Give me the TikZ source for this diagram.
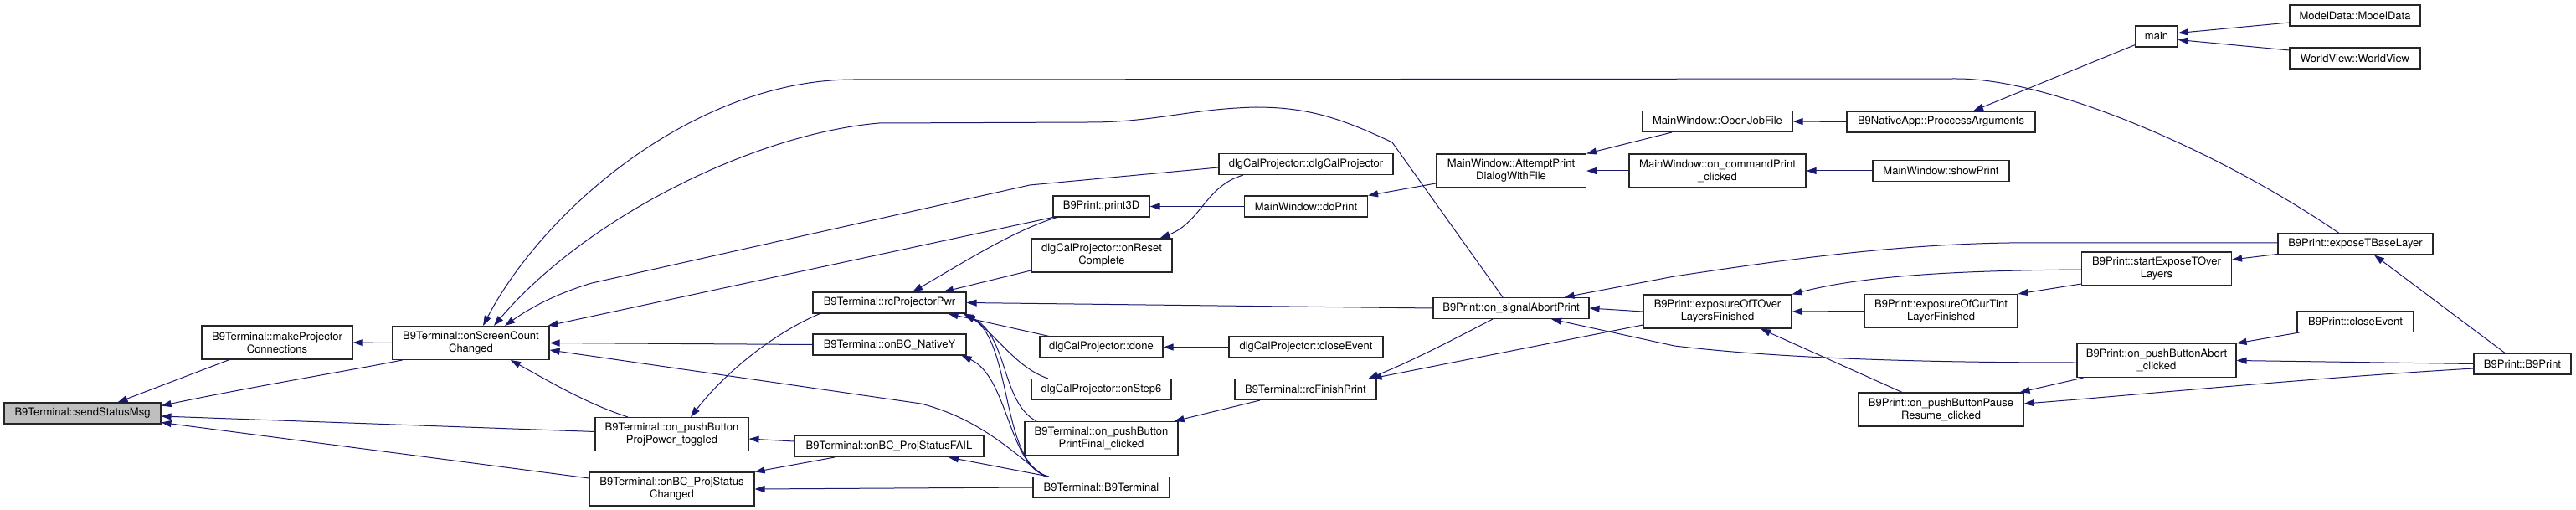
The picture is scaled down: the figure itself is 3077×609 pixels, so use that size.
\documentclass[tikz,border=0pt]{standalone}
\usepackage{fontspec}
\setmainfont{TeX Gyre Heros}
\usetikzlibrary{arrows.meta}

\definecolor{edgeblue}{HTML}{191970}
\definecolor{gray75}{HTML}{BFBFBF}

\tikzset{
  fn/.style={draw=black!85, fill=white, line width=1.1pt, minimum height=25,
    inner sep=1pt, align=center, font=\fontsize{13}{15}\selectfont},
  fnn/.style={fn, minimum height=40},
  root/.style={fn, fill=gray75},
  call/.style={draw=edgeblue, line width=1pt, -{Triangle[length=12pt,width=8pt]}},
}

\begin{document}
\begin{tikzpicture}[x=1pt, y=-1pt]
  \useasboundingbox (0,0) rectangle (3077,609);

  % functions, one column per rank
  \node[root, minimum width=187] (send) at (98.5,493.5) {B9Terminal::sendStatusMsg};
  \node[fnn, minimum width=180] (mkproj) at (331,409) {B9Terminal::makeProjector\\Connections};
  \node[fnn, minimum width=187] (onscreen) at (562.5,409.5) {B9Terminal::onScreenCount\\Changed};
  \node[fnn, minimum width=183] (projpower) at (802.5,518.5) {B9Terminal::on\_pushButton\\ProjPower\_toggled};
  \node[fnn, minimum width=197] (pschanged) at (802.5,584) {B9Terminal::onBC\_ProjStatus\\Changed};
  \node[fn, minimum width=183] (rcpwr) at (1062.5,361.5) {B9Terminal::rcProjectorPwr};
  \node[fn, minimum width=183] (nativey) at (1062.5,411.5) {B9Terminal::onBC\_NativeY};
  \node[fn, minimum width=226] (psfail) at (1062,533) {B9Terminal::onBC\_ProjStatusFAIL};
  \node[fn, minimum width=115] (print3d) at (1315.5,246.5) {B9Print::print3D};
  \node[fnn, minimum width=168] (reset) at (1316,305) {dlgCalProjector::onReset\\Complete};
  \node[fn, minimum width=147] (done) at (1315.5,414.5) {dlgCalProjector::done};
  \node[fn, minimum width=167] (step6) at (1315.5,465) {dlgCalProjector::onStep6};
  \node[fnn, minimum width=183] (printfinal) at (1315.5,523.5) {B9Terminal::on\_pushButton\\PrintFinal\_clicked};
  \node[fn, minimum width=163] (b9term) at (1315.5,582) {B9Terminal::B9Terminal};
  \node[fn, minimum width=208] (dlgcal) at (1560,196) {dlgCalProjector::dlgCalProjector};
  \node[fn, minimum width=147] (doprint) at (1560,246.5) {MainWindow::doPrint};
  \node[fn, minimum width=184] (dlgclose) at (1560,414.5) {dlgCalProjector::closeEvent};
  \node[fn, minimum width=169] (rcfinish) at (1559.5,465) {B9Terminal::rcFinishPrint};
  \node[fnn, minimum width=179] (attempt) at (1805,204) {MainWindow::AttemptPrint\\DialogWithFile};
  \node[fn, minimum width=186] (abortprint) at (1805,368) {B9Print::on\_signalAbortPrint};
  \node[fn, minimum width=179] (openjob) at (2051.5,145) {MainWindow::OpenJobFile};
  \node[fnn, minimum width=211] (cmdprint) at (2051.5,204) {MainWindow::on\_commandPrint\\\_clicked};
  \node[fnn, minimum width=177] (tover) at (2051.5,372) {B9Print::exposureOfTOver\\LayersFinished};
  \node[fn, minimum width=225] (procargs) at (2318.5,145.5) {B9NativeApp::ProccessArguments};
  \node[fn, minimum width=163] (showprint) at (2318.5,204) {MainWindow::showPrint};
  \node[fnn, minimum width=183] (curtint) at (2318.5,371.5) {B9Print::exposureOfCurTint\\LayerFinished};
  \node[fnn, minimum width=197] (pause) at (2318.5,489) {B9Print::on\_pushButtonPause\\Resume\_clicked};
  \node[fn, minimum width=50] (main) at (2576,43.5) {main};
  \node[fnn, minimum width=179] (startexp) at (2576,321) {B9Print::startExposeTOver\\Layers};
  \node[fnn, minimum width=190] (abortbtn) at (2576,430.5) {B9Print::on\_pushButtonAbort\\\_clicked};
  \node[fn, minimum width=156] (modeldata) at (2813,18.5) {ModelData::ModelData};
  \node[fn, minimum width=156] (worldview) at (2813,69.5) {WorldView::WorldView};
  \node[fn, minimum width=185] (basel) at (2813.5,291.5) {B9Print::exposeTBaseLayer};
  \node[fn, minimum width=139] (b9close) at (2813.5,384) {B9Print::closeEvent};
  \node[fn, minimum width=116] (b9print) at (3013,434.5) {B9Print::B9Print};

  % calls, drawn from caller to callee
  \draw[call] ([xshift=-57pt]mkproj.south) -- ([xshift=42pt]send.north);
  \draw[call] ([xshift=-82pt]onscreen.south) .. controls (420,442) and (300,462) .. ([yshift=9pt]send.east);
  \draw[call] ([yshift=3pt]projpower.west) -- ([yshift=-3.5pt]send.east);
  \draw[call] ([yshift=13pt]pschanged.west) -- ([yshift=-11pt]send.east);
  \draw[call] (onscreen.west) -- (mkproj.east);

  \draw[call] ([xshift=-19.5pt]basel.north) .. controls (2650,180) and (2450,94) .. (2337,94)
    -- (1020,95) .. controls (830,95) and (650,250) .. ([xshift=14.5pt]onscreen.north);
  \draw[call] ([xshift=-10pt]abortprint.north) -- (1663,170) .. controls (1600,140) and (1560,128) .. (1500,128)
    .. controls (1420,130) and (1380,146) .. (1300,146) -- (1050,147)
    .. controls (900,160) and (700,260) .. ([xshift=27.5pt]onscreen.north);
  \draw[call] ([yshift=-4pt]dlgcal.west) -- (1230,221) -- (707,338)
    .. controls (660,352) and (630,370) .. ([xshift=40.5pt]onscreen.north);
  \draw[call] (print3d.south west) -- ([xshift=-2pt]onscreen.north east);
  \draw[call] (nativey.west) -- (onscreen.east);
  \draw[call] ([xshift=-67.5pt]b9term.north) .. controls (1210,540) and (1170,500) .. (1100,482)
    -- ([yshift=-8.5pt]onscreen.east);
  \draw[call] ([xshift=-52.5pt]projpower.north) .. controls (700,482) and (650,452) .. ([xshift=47.5pt]onscreen.south);

  \draw[call] ([xshift=9pt]rcpwr.south west) .. controls (930,395) and (870,440) .. ([xshift=22.5pt]projpower.north);
  \draw[call] ([yshift=6pt]psfail.west) -- ([yshift=-5.5pt]projpower.east);
  \draw[call] ([xshift=-65pt]psfail.south) -- (pschanged.north east);
  \draw[call] (b9term.west) -- (pschanged.east);
  \draw[call] ([xshift=-63pt]b9term.north) -- ([xshift=71pt]psfail.south);
  \draw[call] ([xshift=-63pt]b9term.north) .. controls (1205,560) and (1205,450) .. ([xshift=-6pt]nativey.south east);

  \draw[call] ([xshift=5pt]print3d.south west) .. controls (1210,275) and (1140,320) .. ([xshift=27.5pt]rcpwr.north);
  \draw[call] ([yshift=-18pt]reset.west) -- ([xshift=64.5pt]rcpwr.north);
  \draw[call] (abortprint.west) -- (rcpwr.east);
  \draw[call] ([xshift=-62.5pt]done.north) -- ([xshift=70pt]rcpwr.south);
  \draw[call] ([xshift=-63.5pt]step6.north) .. controls (1215,440) and (1190,400) .. ([xshift=-1pt]rcpwr.south east);
  \draw[call] ([xshift=-77.5pt]printfinal.north) .. controls (1195,480) and (1205,400) .. ([xshift=-4pt]rcpwr.south east);
  \draw[call] ([xshift=-63pt]b9term.north) .. controls (1195,555) and (1210,410) .. ([xshift=-2pt]rcpwr.south east);

  \draw[call] (doprint.west) -- (print3d.east);
  \draw[call] ([xshift=-75pt]dlgcal.south) .. controls (1440,222) and (1435,265) .. ([xshift=-15pt]reset.north east);
  \draw[call] (dlgclose.west) -- (done.east);
  \draw[call] ([xshift=-54.5pt]rcfinish.south) -- ([xshift=-5pt]printfinal.north east);

  \draw[call] ([yshift=-15pt]attempt.west) -- (doprint.north east);
  \draw[call] ([xshift=-22pt]abortprint.south) .. controls (1750,398) and (1690,430) .. ([xshift=-10pt]rcfinish.north east);
  \draw[call] ([yshift=-16pt]tover.west) -- ([xshift=-6pt]rcfinish.north east);
  \draw[call] ([yshift=1.5pt]basel.west) -- (2400,290) .. controls (2250,292) and (2100,315) .. (2000,330)
    -- ([xshift=-30pt]abortprint.north east);
  \draw[call] (tover.west) -- (abortprint.east);
  \draw[call] ([yshift=-2.5pt]abortbtn.west) .. controls (2250,433) and (2100,425) .. (2000,413)
    -- ([xshift=48pt]abortprint.south);

  \draw[call] ([xshift=-54.5pt]openjob.south) -- (attempt.north east);
  \draw[call] (cmdprint.west) -- (attempt.east);
  \draw[call] (procargs.west) -- (openjob.east);
  \draw[call] (showprint.west) -- (cmdprint.east);
  \draw[call] ([yshift=-18pt]startexp.west) -- (curtint.north east);
  \draw[call] ([yshift=-1pt]startexp.west) .. controls (2350,323) and (2230,328) .. (tover.north east);
  \draw[call] (curtint.west) -- (tover.east);
  \draw[call] ([xshift=-46.5pt]pause.north) -- ([xshift=51.5pt]tover.south);

  \draw[call] ([yshift=-10pt]main.west) -- ([xshift=38.5pt]procargs.north);
  \draw[call] ([xshift=8pt]abortbtn.south west) -- ([xshift=-5pt]pause.north east);
  \draw[call] ([yshift=-5.5pt]b9print.west) .. controls (2750,452) and (2550,472) .. ([yshift=7pt]pause.east);

  \draw[call] ([yshift=-8.5pt]modeldata.west) -- ([yshift=4pt]main.east);
  \draw[call] ([yshift=9.5pt]worldview.west) -- ([yshift=-4pt]main.east);
  \draw[call] ([yshift=-12pt]basel.west) -- ([yshift=11pt]startexp.east);
  \draw[call] (b9print.west) -- (abortbtn.east);
  \draw[call] ([xshift=3pt]b9close.south west) -- (abortbtn.north east);
  \draw[call] ([xshift=-21pt]b9print.north) -- ([xshift=22.5pt]basel.south);
\end{tikzpicture}
\end{document}
